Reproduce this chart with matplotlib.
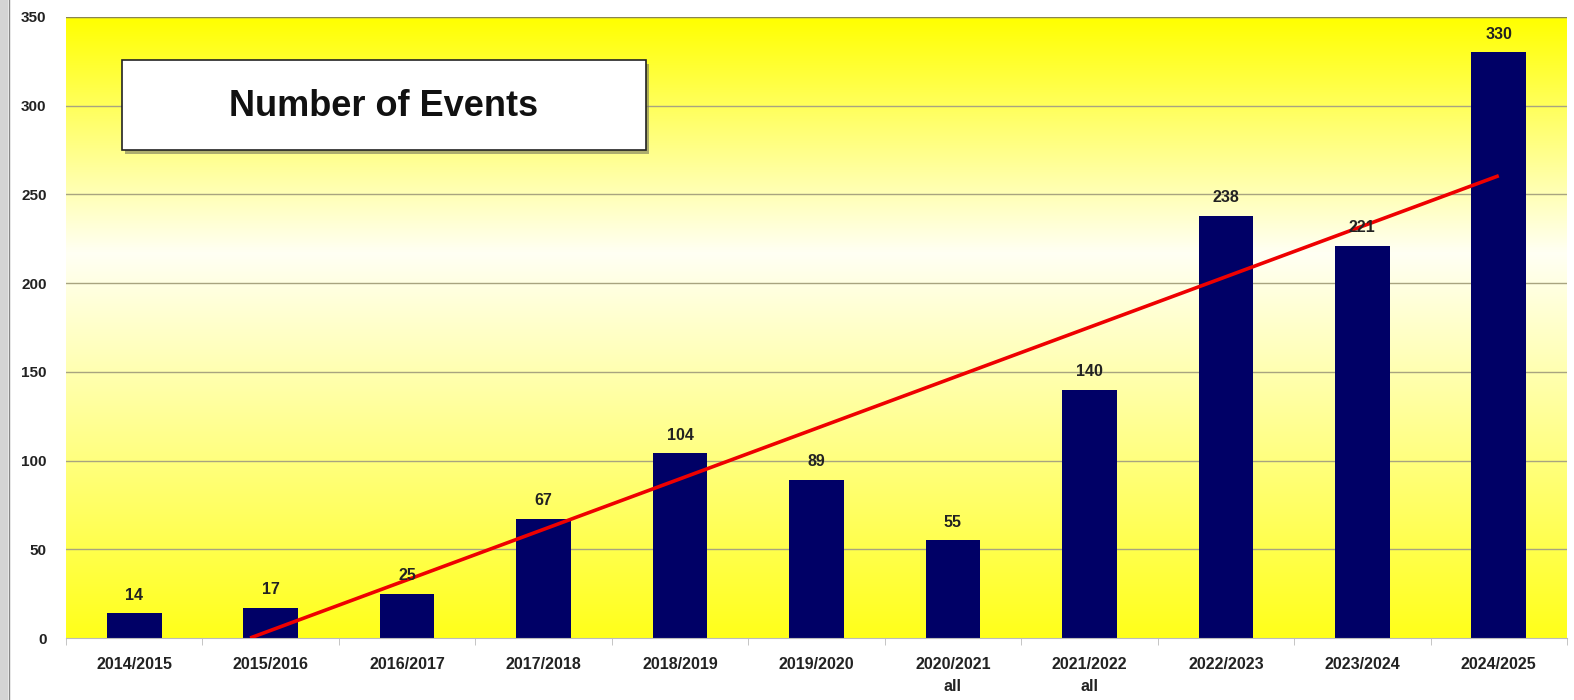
import matplotlib.pyplot as plt
import numpy as np
from matplotlib.colors import LinearSegmentedColormap
from matplotlib.patches import Rectangle

seasons = ['2014/2015', '2015/2016', '2016/2017', '2017/2018', '2018/2019',
           '2019/2020', '2020/2021\nall', '2021/2022\nall', '2022/2023',
           '2023/2024', '2024/2025']
events = [14, 17, 25, 67, 104, 89, 55, 140, 238, 221, 330]
yticks = [0, 50, 100, 150, 200, 250, 300, 350]

plt.rcParams['font.family'] = ['Liberation Sans', 'DejaVu Sans']

fig = plt.figure(figsize=(15.74, 7.0), dpi=100)
fig.patch.set_facecolor('white')
ax = fig.add_axes([66 / 1574, 1 - 638 / 700, 1501 / 1574, 621 / 700])

x = np.arange(len(seasons))
ax.set_xlim(-0.5, len(seasons) - 0.5)
ax.set_ylim(0, 350)

# yellow -> white -> yellow background
cmap = LinearSegmentedColormap.from_list(
    'bg', [(0.0, '#ffff1a'), (0.62, '#fffff4'), (1.0, '#ffff00')])
grad = np.linspace(0, 1, 256).reshape(-1, 1)
ax.imshow(grad, cmap=cmap, origin='lower', aspect='auto',
          extent=(-0.5, len(seasons) - 0.5, 0, 350), zorder=0)

for t in yticks[1:]:
    ax.axhline(t, color='#a8a480', lw=1.0, zorder=1)
ax.axhline(350, color='#8a8650', lw=1.6, zorder=1)

ax.bar(x, events, width=0.4, color='#000066', zorder=2)
for xi, v in zip(x, events):
    ax.text(xi, v + 6, str(v), ha='center', va='bottom', fontsize=11.5,
            fontweight='bold', color='#222222', zorder=4)

# linear trend, clipped at zero
k, b = np.polyfit(x + 1, events, 1)
x0 = -b / k - 1
xs = np.array([x0, x[-1]])
ax.plot(xs, k * (xs + 1) + b, color='#ee0000', lw=2.6, zorder=3,
        solid_capstyle='butt')

ax.set_xticks(x)
ax.set_xticklabels(seasons, fontsize=11.5, fontweight='bold', color='#222222',
                   linespacing=1.55)
ax.set_xticks(np.arange(-0.5, len(seasons), 1), minor=True)
ax.tick_params(axis='x', which='major', length=0, pad=14)
ax.tick_params(axis='x', which='minor', length=5, color='#bbbbbb')
ax.set_yticks(yticks)
ax.set_yticklabels([str(t) for t in yticks], fontsize=11, fontweight='bold',
                   color='#222222')
ax.tick_params(axis='y', length=0, pad=14)

for s in ['top', 'right', 'left']:
    ax.spines[s].set_visible(False)
ax.spines['bottom'].set_color('#bbbbbb')

# title box with shadow
fig.add_artist(Rectangle((125 / 1574, 1 - 154 / 700), 524 / 1574, 90 / 700,
                         transform=fig.transFigure, facecolor='#77775a',
                         edgecolor='none', alpha=0.6, zorder=5))
fig.add_artist(Rectangle((122 / 1574, 1 - 150 / 700), 524 / 1574, 90 / 700,
                         transform=fig.transFigure, facecolor='white',
                         edgecolor='#222222', lw=1.2, zorder=6))
fig.text(384 / 1574, 1 - 106 / 700, 'Number of Events', ha='center',
         va='center', fontsize=26, fontweight='bold', color='#111111', zorder=7)

# grey strip at the left edge
fig.add_artist(Rectangle((0, 0), 8 / 1574, 1, transform=fig.transFigure,
                         facecolor='#d4d4d4', edgecolor='none'))
fig.add_artist(plt.Line2D([8.5 / 1574, 8.5 / 1574], [0, 1],
                          transform=fig.transFigure, color='#888888', lw=1))

fig.savefig('out.png', dpi=100)
